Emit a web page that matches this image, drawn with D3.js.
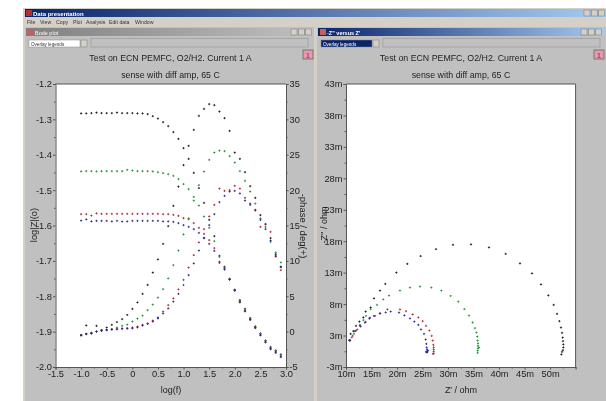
<!DOCTYPE html>
<html><head><meta charset="utf-8">
<style>html,body{margin:0;padding:0;background:#fff}svg{display:block;filter:blur(.35px)}text{font-family:"Liberation Sans",Arial,sans-serif}</style>
<script src="https://cdn.jsdelivr.net/npm/d3@7"></script></head><body><script>
const logF=[-1.0,-0.9,-0.8,-0.7,-0.6,-0.5,-0.4,-0.3,-0.2,-0.1,0,0.1,0.2,0.3,0.4,0.5,0.6,0.7,0.8,0.9,1.0,1.1,1.2,1.3,1.4,1.5,1.6,1.7,1.8,1.9,2.0,2.1,2.2,2.3,2.4,2.5,2.6,2.7,2.8,2.9];
const logZBlack=[-1.283,-1.283,-1.282,-1.281,-1.282,-1.282,-1.282,-1.281,-1.282,-1.282,-1.282,-1.283,-1.283,-1.285,-1.291,-1.298,-1.308,-1.319,-1.336,-1.355,-1.381,-1.412,-1.451,-1.494,-1.536,-1.584,-1.63,-1.686,-1.717,-1.751,-1.782,-1.811,-1.836,-1.862,-1.885,-1.905,-1.925,-1.944,-1.953,-1.964];
const logZGreen=[-1.447,-1.446,-1.446,-1.447,-1.446,-1.446,-1.446,-1.446,-1.446,-1.443,-1.445,-1.446,-1.446,-1.446,-1.447,-1.449,-1.452,-1.455,-1.46,-1.469,-1.483,-1.497,-1.519,-1.544,-1.575,-1.607,-1.644,-1.689,-1.719,-1.751,-1.782,-1.813,-1.839,-1.864,-1.887,-1.907,-1.927,-1.946,-1.955,-1.966];
const logZRed=[-1.568,-1.568,-1.572,-1.566,-1.567,-1.567,-1.567,-1.567,-1.567,-1.567,-1.567,-1.567,-1.567,-1.567,-1.567,-1.567,-1.568,-1.568,-1.57,-1.573,-1.579,-1.582,-1.593,-1.607,-1.624,-1.641,-1.664,-1.706,-1.722,-1.753,-1.784,-1.817,-1.842,-1.867,-1.89,-1.91,-1.93,-1.95,-1.96,-1.972];
const logZBlue=[-1.586,-1.583,-1.588,-1.587,-1.587,-1.587,-1.588,-1.587,-1.589,-1.588,-1.587,-1.587,-1.587,-1.587,-1.587,-1.587,-1.588,-1.588,-1.59,-1.593,-1.599,-1.604,-1.61,-1.621,-1.635,-1.652,-1.672,-1.703,-1.725,-1.753,-1.784,-1.816,-1.842,-1.866,-1.889,-1.91,-1.93,-1.948,-1.958,-1.97];
const phaseBlack=[-0.48,0.89,-0.19,0.8,0.23,0.55,0.94,1.36,1.78,2.35,3.2,4.14,5.32,6.6,8.33,10.2,12.4,14.9,17.76,20.48,23.55,26.24,28.5,30.5,31.47,32.17,32.03,31.08,30.19,28.36,25.29,24.4,22.56,20.58,18.89,16.48,15.21,13.23,10.97,9.13];
const phaseGreen=[-0.48,-0.34,-0.24,-0.01,0.13,0.23,0.37,0.55,0.8,0.98,1.4,1.83,2.25,3.05,3.8,4.8,6.02,7.53,9.4,11.44,13.76,16.0,18.5,20.7,22.6,24.26,25.3,25.6,25.5,24.8,23.9,22.7,21.3,19.8,18.1,16.0,14.8,12.7,11.2,9.8];
const phaseRed=[-0.48,-0.34,-0.24,-0.01,0.13,0.23,0.33,0.37,0.47,0.51,0.61,0.7,0.94,1.18,1.54,2.02,2.82,3.76,4.71,5.98,7.3,9.04,10.83,12.6,14.5,16.3,17.9,20.2,19.9,20,20.6,20.2,18.9,18.1,17.1,14.8,15.2,14.1,10.6,8.7];
const phaseBlue=[-0.48,-0.3,-0.2,0,0.1,0.2,0.3,0.35,0.4,0.42,0.47,0.61,0.84,1.08,1.4,1.88,2.59,3.3,4.23,5.32,6.59,8.0,9.66,11.44,13.2,15.07,16.6,18.3,19.2,19.8,19.9,19.55,18.5,17.9,17.2,15.8,14.5,12.85,10.7,9.2];
const reBlack=[10.65,10.92,11.43,11.96,12.61,13.39,13.86,14.84,15.49,16.66,17.7,19.86,22.01,24.64,27.64,30.97,34.5,38.03,41.3,44.1,46.46,48.22,49.65,50.71,51.36,51.81,52.14,52.34,52.47,52.53,52.59,52.59,52.53,52.34,52.2];
const imBlack=[1.79,2.75,3.22,4.02,4.7,5.4,6.29,6.99,8.42,9.63,10.7,12.49,13.88,15.15,16.26,16.9,17.01,16.53,15.47,13.99,12.4,10.65,8.9,7.36,5.93,4.81,3.75,2.91,2.16,1.63,1.11,0.63,0.2,-0.11,-0.48];
const reGreen=[10.65,11.12,11.57,12.21,12.74,13.39,13.92,14.84,16.08,17.31,18.43,20.58,22.54,24.5,26.72,28.68,30.52,32.01,33.19,34.11,34.83,35.28,35.54,35.73,35.81,35.87,35.87,35.87,36.07,35.81,35.81];
const imGreen=[1.68,2.22,2.75,3.49,4.18,4.97,5.61,6.72,7.36,8.26,8.84,9.63,10.11,10.27,10.11,9.63,8.79,7.88,6.72,5.66,4.61,3.7,2.95,2.32,1.68,1.27,0.84,0.47,0.63,0.09,-0.27];
const reRed=[10.78,11.31,11.96,12.88,13.86,14.7,15.68,16.66,18.1,20.58,21.76,23.07,24.17,25.03,25.68,26.33,26.8,27.0,27.11,27.19,27.19,27.19,27.19,27.05];
const imRed=[1.79,2.43,3.27,3.91,4.66,5.34,5.61,6.04,6.67,6.67,6.4,5.88,5.4,4.81,4.02,3.27,2.43,1.68,1.0,0.63,0.31,0,-0.32,-0.43];
const reBlue=[10.78,11.76,12.74,13.72,14.57,15.49,16.66,17.78,18.76,20.39,21.43,22.54,23.39,24.17,24.7,25.29,25.62,25.74,25.82,25.88,25.88,25.68,26.07,25.88];
const imBlue=[1.68,3.22,4.02,4.54,5.18,5.61,6.04,6.2,6.29,6.13,5.72,5.24,4.7,4.18,3.49,2.75,1.9,1.16,0.63,0.31,0,-0.11,0.1,-0.23];
const seriesColors=["#111111","#1c8c30","#a8202c","#20209a"];
const titleLines=["Test on ECN PEMFC, O2/H2. Current 1 A","sense with diff amp, 65 C"];
const menuItems=["File","View","Copy","Plot","Analysis","Edit data","Window"];
const bodeXTicks=[-1.5,-1.0,-0.5,0,0.5,1.0,1.5,2.0,2.5,3.0];
const bodeYTicks=[-1.2,-1.3,-1.4,-1.5,-1.6,-1.7,-1.8,-1.9,-2.0];
const phaseTicks=[-5,0,5,10,15,20,25,30,35];
const nyqXTicks=[10,15,20,25,30,35,40,45,50];
const nyqYTicks=[-2.5,2.5,7.5,12.5,17.5,22.5,27.5,32.5,37.5,42.5];
const nyqYLabels=["-3m","3m","8m","13m","18m","23m","28m","33m","38m","43m"];

const svg=d3.select("body").append("svg").attr("width",606).attr("height",401);
const defs=svg.append("defs");
function grad(id,a,b){const g=defs.append("linearGradient").attr("id",id);g.append("stop").attr("offset",0).attr("stop-color",a);g.append("stop").attr("offset",1).attr("stop-color",b);}
grad("act","#0a246a","#a6caf0");grad("inact","#808080","#c0c0c0");
const R=(x,y,w,h,f,s)=>svg.append("rect").attr("x",x).attr("y",y).attr("width",w).attr("height",h).attr("fill",f).attr("stroke",s||"none");
const T=(x,y,t,o={})=>svg.append("text").attr("x",x).attr("y",y).attr("text-anchor",o.a||"start").attr("font-size",o.s||12).attr("fill",o.f||"#222").attr("font-weight",o.w||"normal").text(t);

R(23,8,583,393,"#d4d0c8");
R(25,9,581,8,"url(#act)");
R(26,10,6,6,"#b03030");
T(33,15.5,"Data presentation",{s:6,f:"#fff",w:"bold"});
menuItems.forEach((m,i)=>T([27,40,56,73,86,109,135][i],24,m,{s:5.2,f:"#333"}));
function winBtns(x,y){[0,1,2].forEach(i=>{R(x+i*7.3,y,6,6,"#d4d0c8","#777").attr("stroke-width",.5);});}
winBtns(584,10);

function child(x0,x1,active,name,boxFill,badge,btnX){
  R(x0,27,x1-x0,374,"#c0c0c0");
  R(x0+1,28,x1-x0-2,8,active?"url(#act)":"url(#inact)");
  R(x0+3,29,6,6,"#c06060");
  T(x0+10,34.5,name,{s:5.5,f:"#fff",w:active?"bold":"normal"});
  winBtns(btnX,29);
  R(x0+4,40,51,7,boxFill,"#888").attr("stroke-width",.5);
  T(x0+6,45.5,"Overlay legends",{s:4.6,f:active?"#fff":"#333"});
  R(x0+56,40,6,7,"#d4d0c8","#777").attr("stroke-width",.5);
  R(x0+66,38.5,x1-x0-72,8.5,"#c0c0c0","#9a9a9a").attr("stroke-width",.7);
  R(badge,50,10,9,"#e89aa8","#777");
  T(badge+5,57.5,"1",{s:7,a:"middle",f:"#d020c0",w:"bold"});
}
child(25,314,false,"Bode plot","#ffffff",303,291);
child(317,606,true,"-Z\" versus Z'","#0a246a",594,581);

function titles(cx){titleLines.forEach((t,i)=>T(cx,60.5+i*17,t,{a:"middle",s:8.8}));}
titles(170.5);titles(461);

const yTop=84,yBot=367;
function axis(g,scale,orient,ticks,fmt,minor){
  const a=orient(scale).tickValues(ticks).tickFormat(fmt).tickSize(2.5).tickPadding(1);
  const n=g.call(a);
  n.selectAll("path,line").attr("stroke","#555");
  n.selectAll("text").attr("font-size",9.3).attr("fill","#222").attr("font-family",'"Liberation Sans",Arial,sans-serif');
  if(minor){const m=orient(scale).tickValues(minor).tickFormat("").tickSize(1.5);
    const h=g.append("g").call(m);h.select("path").remove();h.selectAll("line").attr("stroke","#555");}
}
function plotBg(x0,x1){R(x0,yTop,x1-x0,yBot-yTop,"#fff");}
function dots(g,xs,ys,cx,cy,color){
  const sym=d3.symbol().type(d3.symbolCross).size(2.8);
  g.selectAll(null).data(xs.map((x,i)=>[x,ys[i]])).join("path").attr("d",sym)
   .attr("transform",d=>`translate(${cx(d[0])},${cy(d[1])})`).attr("fill",color);
}
const mid=(t)=>t.slice(1).map((v,i)=>(v+t[i])/2);

// Bode plot
const bx=d3.scaleLinear().domain([-1.5,3.0]).range([55.5,286]);
const by=d3.scaleLinear().domain([-1.2,-2.0]).range([yTop,yBot]);
const py=d3.scaleLinear().domain([-5,35]).range([yBot,yTop]);
plotBg(55.5,286);
axis(svg.append("g").attr("transform",`translate(0,${yBot})`),bx,d3.axisBottom,bodeXTicks,d=>d===0?"0":d3.format(".1f")(d).replace("\u2212","-"),mid(bodeXTicks));
axis(svg.append("g").attr("transform","translate(55.5,0)"),by,d3.axisLeft,bodeYTicks,d=>d3.format(".1f")(d).replace("\u2212","-"),mid(bodeYTicks));
axis(svg.append("g").attr("transform","translate(286,0)"),py,d3.axisRight,phaseTicks,d=>String(d),mid(phaseTicks));
svg.append("path").attr("d","M55.5,84H286").attr("stroke","#555");
const gb=svg.append("g");
[logZBlack,logZGreen,logZRed,logZBlue].forEach((s,i)=>dots(gb,logF,s,bx,by,seriesColors[i]));
[phaseBlack,phaseGreen,phaseRed,phaseBlue].forEach((s,i)=>dots(gb,logF,s,bx,py,seriesColors[i]));
T(171,393,"log(f)",{a:"middle",s:9});
T(0,0,"log|Z|(o)",{a:"middle",s:9.3}).attr("transform","translate(37,225) rotate(-90)");
T(0,0,"-phase / deg(+)",{a:"middle",s:9.5}).attr("transform","translate(300,226) rotate(90)");

// Nyquist plot
const nx=d3.scaleLinear().domain([10,55]).range([346,575.6]);
const ny=d3.scaleLinear().domain([-2.5,42.5]).range([yBot,yTop]);
plotBg(346,575.6);
axis(svg.append("g").attr("transform",`translate(0,${yBot})`),nx,d3.axisBottom,nyqXTicks,d=>d+"m",[12.5,17.5,22.5,27.5,32.5,37.5,42.5,47.5,52.5,55]);
axis(svg.append("g").attr("transform","translate(346,0)"),ny,d3.axisLeft,nyqYTicks,(d,i)=>nyqYLabels[i],mid(nyqYTicks));
svg.append("path").attr("d","M346,84H575.6V367").attr("stroke","#555").attr("fill","none");
const gn=svg.append("g");
[[reBlack,imBlack],[reGreen,imGreen],[reRed,imRed],[reBlue,imBlue]].forEach((p,i)=>dots(gn,p[0],p[1],nx,ny,seriesColors[i]));
T(461,393,"Z' / ohm",{a:"middle",s:9});
T(0,0,"-Z'' / ohm",{a:"middle",s:9}).attr("transform","translate(327,225) rotate(-90)");
</script></body></html>
